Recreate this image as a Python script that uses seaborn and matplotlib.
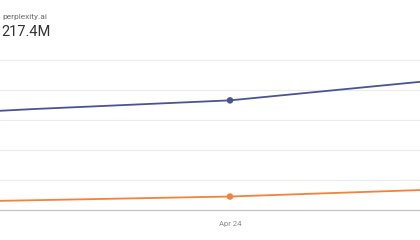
import matplotlib
matplotlib.use("Agg")
import matplotlib.pyplot as plt
import matplotlib.dates as mdates
import seaborn as sns
import pandas as pd
import numpy as np

dates = ["2024-02-24", "2024-03-24", "2024-04-24", "2024-05-24"]
perplexity = [152.0, 168.0, 182.5, 213.5]   # millions
other = [10.0, 15.5, 21.7, 32.5]            # millions
series_names = ["perplexity.ai", "other"]
colors = ["#4a5494", "#f5813a"]
highlight_date = "2024-04-24"
tick_label = "Apr 24"
title_name = "perplexity.ai"
title_value = "217.4M"
yticks = [0, 50, 100, 150, 200, 250]

sns.set_theme(style="white")
plt.rcParams['font.family'] = ['Roboto', 'DejaVu Sans']

df = pd.DataFrame({
    "date": pd.to_datetime(dates * 2),
    "value": perplexity + other,
    "series": [series_names[0]] * len(dates) + [series_names[1]] * len(dates),
})

fig = plt.figure(figsize=(4.2, 2.4), dpi=100)
ax = fig.add_axes([0.0, 1 - 209.5 / 240, 1.0, (209.5 - 60) / 240])

sns.lineplot(data=df, x="date", y="value", hue="series", palette=colors,
             linewidth=1.3, legend=False, ax=ax)
hl = df[df["date"] == pd.Timestamp(highlight_date)]
sns.scatterplot(data=hl, x="date", y="value", hue="series", palette=colors,
                s=22, edgecolor="none", legend=False, ax=ax, zorder=5)

d0 = pd.Timestamp(highlight_date)
right = pd.Timestamp("2024-05-24")
span_right = (right - d0).days
left = d0 - pd.Timedelta(days=span_right * 230 / 190)
ax.set_xlim(mdates.date2num(left), mdates.date2num(right))
ax.set_ylim(0, 250)
ax.set_yticks(yticks)
ax.set_yticklabels([])
ax.yaxis.grid(True, color="#ebebeb", linewidth=0.8)
ax.set_xticks([mdates.date2num(d0)])
ax.set_xticklabels([tick_label], fontsize=5.5, color="#8a8a8a")
ax.tick_params(axis="x", length=2.5, width=0.6, color="#9a9a9a", pad=6)
ax.tick_params(axis="y", length=0)
ax.set_xlabel("")
ax.set_ylabel("")
for s in ["top", "left", "right"]:
    ax.spines[s].set_visible(False)
ax.spines["bottom"].set_color("#c4c4c4")
ax.spines["bottom"].set_linewidth(0.9)

fig.text(2 / 420, 1 - 17 / 240, title_name, fontsize=6.0, color="#6b6b6b", va="center", ha="left")
fig.text(1.5 / 420, 1 - 32 / 240, title_value, fontsize=10.5, color="#333333", va="center", ha="left")

fig.savefig("out.png", dpi=100, facecolor="white")
